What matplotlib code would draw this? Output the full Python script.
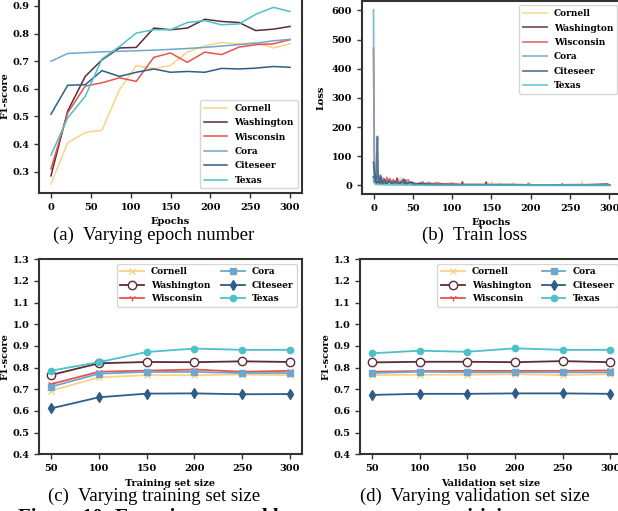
import matplotlib
matplotlib.use('Agg')
import matplotlib.pyplot as plt
import numpy as np

plt.rcParams['font.family'] = ['DejaVu Serif']
plt.rcParams['font.weight'] = 'bold'
plt.rcParams['axes.labelweight'] = 'bold'

names = ['Cornell', 'Washington', 'Wisconsin', 'Cora', 'Citeseer', 'Texas']
colors = ['#f9d386', '#5c2b38', '#e8524c', '#6fa6cc', '#2f5d87', '#4cc0cb']

# (a) F1 vs epochs
epochs = [0, 21, 43, 64, 86, 107, 129, 150, 171, 193, 214, 236, 257, 279, 300]
f1_cornell = [0.255, 0.405, 0.442, 0.45, 0.597, 0.684, 0.673, 0.685, 0.733, 0.756, 0.768, 0.762, 0.768, 0.748, 0.763]
f1_washington = [0.285, 0.52, 0.645, 0.705, 0.748, 0.75, 0.82, 0.814, 0.82, 0.852, 0.844, 0.84, 0.811, 0.816, 0.826]
f1_wisconsin = [0.31, 0.513, 0.61, 0.622, 0.64, 0.627, 0.714, 0.73, 0.696, 0.733, 0.724, 0.751, 0.76, 0.763, 0.778]
f1_cora = [0.70, 0.728, 0.731, 0.734, 0.736, 0.738, 0.740, 0.743, 0.746, 0.750, 0.755, 0.760, 0.765, 0.774, 0.779]
f1_citeseer = [0.508, 0.613, 0.615, 0.666, 0.645, 0.66, 0.672, 0.66, 0.663, 0.66, 0.674, 0.672, 0.675, 0.681, 0.678]
f1_texas = [0.36, 0.495, 0.573, 0.708, 0.753, 0.802, 0.814, 0.814, 0.84, 0.847, 0.832, 0.835, 0.87, 0.895, 0.88]

# (b) train loss, (epoch, loss) points
loss_cornell = [(0, 15), (1, 8), (2, 6), (3, 10), (5, 5), (7, 12), (9, 6), (11, 15), (13, 4), (15, 10),
                (18, 5), (21, 12), (24, 6), (27, 18), (30, 5), (33, 10), (34, 26), (35, 8), (36, 5), (40, 12),
                (44, 6), (48, 10), (52, 4), (60, 5), (70, 3), (80, 6), (90, 3), (99, 2), (100, 9), (101, 2),
                (120, 3), (144, 2), (145, 10), (146, 3), (149, 2), (150, 12), (151, 3), (159, 2), (160, 8),
                (161, 2), (177, 2), (178, 9), (179, 2), (199, 2), (200, 7), (201, 2), (230, 2), (264, 2),
                (265, 14), (266, 2), (300, 2)]
loss_washington = [(0, 30), (1, 12), (2, 20), (4, 8), (6, 15), (8, 6), (10, 18), (12, 5), (14, 12), (16, 6),
                   (19, 20), (22, 8), (25, 15), (28, 6), (30, 25), (32, 8), (35, 10), (38, 6), (40, 20), (42, 5),
                   (46, 10), (50, 4), (60, 6), (75, 3), (90, 5), (112, 2), (113, 12), (114, 2), (142, 2),
                   (143, 12), (144, 2), (170, 3), (200, 2), (239, 2), (240, 5), (241, 2), (270, 2), (297, 5), (300, 2)]
loss_wisconsin = [(0, 470), (1, 120), (2, 40), (3, 20), (5, 28), (7, 12), (9, 22), (11, 10), (13, 25), (15, 12),
                  (17, 28), (19, 10), (21, 24), (23, 12), (25, 20), (28, 10), (31, 16), (34, 8), (37, 14), (40, 8),
                  (44, 20), (46, 8), (50, 10), (55, 6), (63, 12), (65, 5), (70, 10), (75, 6), (80, 9), (90, 5),
                  (100, 7), (110, 4), (130, 4), (160, 3), (196, 2), (197, 8), (198, 2), (230, 2), (260, 3), (300, 2)]
loss_cora = [(0, 602), (1, 60), (2, 30), (4, 25), (6, 35), (8, 15), (10, 30), (12, 10), (15, 20), (18, 8),
             (22, 15), (26, 6), (30, 10), (35, 5), (40, 8), (50, 4), (70, 3), (100, 2), (150, 2), (200, 2), (300, 1)]
loss_citeseer = [(0, 80), (1, 40), (2, 15), (3, 10), (4, 60), (5, 168), (6, 30), (7, 10), (9, 35), (11, 8),
                 (14, 20), (17, 6), (20, 15), (24, 8), (28, 12), (33, 6), (38, 22), (40, 5), (45, 10), (48, 12),
                 (52, 4), (60, 6), (80, 3), (110, 2), (150, 2), (200, 1), (300, 1)]
loss_texas = [(0, 25), (1, 10), (2, 5), (4, 3), (10, 3), (20, 2), (50, 1), (100, 1), (300, 1)]

# (c) training set size, (d) validation set size
sizes = [50, 100, 150, 200, 250, 300]
train_cornell = [0.694, 0.755, 0.765, 0.765, 0.768, 0.765]
train_washington = [0.766, 0.82, 0.826, 0.825, 0.829, 0.826]
train_wisconsin = [0.724, 0.781, 0.786, 0.791, 0.781, 0.785]
train_cora = [0.712, 0.772, 0.78, 0.78, 0.775, 0.775]
train_citeseer = [0.612, 0.663, 0.68, 0.681, 0.677, 0.678]
train_texas = [0.786, 0.825, 0.872, 0.888, 0.882, 0.882]

val_cornell = [0.765, 0.767, 0.767, 0.77, 0.765, 0.77]
val_washington = [0.824, 0.827, 0.827, 0.825, 0.83, 0.825]
val_wisconsin = [0.781, 0.784, 0.785, 0.785, 0.785, 0.787]
val_cora = [0.775, 0.781, 0.778, 0.779, 0.778, 0.778]
val_citeseer = [0.674, 0.679, 0.679, 0.681, 0.681, 0.679]
val_texas = [0.866, 0.878, 0.873, 0.889, 0.882, 0.882]

fig = plt.figure(figsize=(6.18, 5.11), dpi=100)
ax_a = fig.add_axes([0.0631, 0.6223, 0.4256, 0.3806])
ax_b = fig.add_axes([0.5853, 0.6204, 0.4200, 0.3777])
ax_c = fig.add_axes([0.0636, 0.1110, 0.4246, 0.3816])
ax_d = fig.add_axes([0.5825, 0.1110, 0.4246, 0.3816])


def style(ax):
    for s in ax.spines.values():
        s.set_linewidth(1.5)
        s.set_color('#333333')
    ax.tick_params(labelsize=7, width=1, length=3.5, color='#333333')
    for lab in ax.get_xticklabels() + ax.get_yticklabels():
        lab.set_fontweight('bold')


# (a)
for vals, name, c in zip([f1_cornell, f1_washington, f1_wisconsin, f1_cora, f1_citeseer, f1_texas], names, colors):
    ax_a.plot(epochs, vals, color=c, lw=1.1, label=name)
ax_a.set_xlabel('Epochs', fontsize=7)
ax_a.set_ylabel('F1-score', fontsize=7, labelpad=2)
ax_a.set_xticks([0, 50, 100, 150, 200, 250, 300])
ax_a.legend(loc='lower right', fontsize=6.5, handlelength=2.6, labelspacing=0.6)
style(ax_a)

# (b)
for pts, name, c in zip([loss_cornell, loss_washington, loss_wisconsin, loss_cora, loss_citeseer, loss_texas], names, colors):
    ex, ly = zip(*pts)
    ax_b.plot(ex, ly, color=c, lw=1.3, alpha=0.8, label=name)
ax_b.set_xlabel('Epochs', fontsize=7)
ax_b.set_ylabel('Loss', fontsize=7)
ax_b.set_xticks([0, 50, 100, 150, 200, 250, 300])
ax_b.legend(loc='upper right', fontsize=6.5, handlelength=2.6, labelspacing=0.6)
style(ax_b)

markers = ['x', 'o', '1', 's', 'd', 'o']
msizes = [4, 6, 5, 5, 5, 4.5]


def size_panel(ax, series, xlabel):
    for vals, name, c, m, ms in zip(series, names, colors, markers, msizes):
        face = 'white' if name == 'Washington' else c
        ax.plot(sizes, vals, color=c, lw=1.3, marker=m, ms=ms, mfc=face, mec=c, label=name)
    ax.set_ylim(0.4, 1.3)
    ax.set_xticks(sizes)
    ax.set_xlabel(xlabel, fontsize=7)
    ax.set_ylabel('F1-score', fontsize=7, labelpad=2)
    ax.legend(loc='upper right', ncol=2, fontsize=6.5, handlelength=2.6, columnspacing=1.2)
    style(ax)


size_panel(ax_c, [train_cornell, train_washington, train_wisconsin, train_cora, train_citeseer, train_texas],
           'Training set size')
size_panel(ax_d, [val_cornell, val_washington, val_wisconsin, val_cora, val_citeseer, val_texas],
           'Validation set size')

cap = dict(fontsize=13.5, fontweight='normal', family='Liberation Serif', ha='center', va='baseline')
fig.text(154 / 618, 1 - 240 / 511, '(a)  Varying epoch number', **cap)
fig.text(475 / 618, 1 - 240 / 511, '(b)  Train loss', **cap)
fig.text(154 / 618, 1 - 501 / 511, '(c)  Varying training set size', **cap)
fig.text(475 / 618, 1 - 501 / 511, '(d)  Varying validation set size', **cap)
fig.text(18 / 618, 1 - 523 / 511, 'Figure 10: Experiments and hyper-parameter sensitivity',
         fontsize=15, fontweight='bold', family='Liberation Serif', ha='left', va='baseline')

fig.savefig('out.png', dpi=100)
